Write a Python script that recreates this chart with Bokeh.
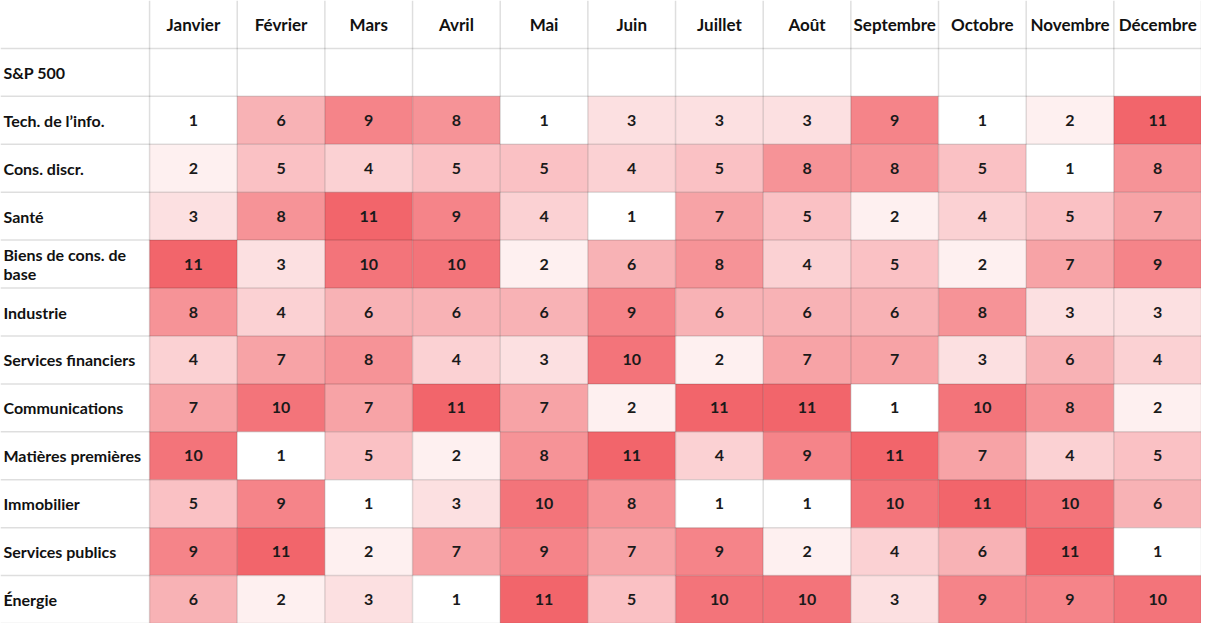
from bokeh.plotting import figure
from bokeh.models import ColumnDataSource, Range1d
from bokeh.core.properties import value
from bokeh.embed import file_html
from bokeh.resources import INLINE

months = ["Janvier", "Février", "Mars", "Avril", "Mai", "Juin", "Juillet",
          "Août", "Septembre", "Octobre", "Novembre", "Décembre"]
rows = ["S&P 500", "Tech. de l’info.", "Cons. discr.", "Santé",
        "Biens de cons. de\nbase", "Industrie", "Services financiers",
        "Communications", "Matières premières", "Immobilier",
        "Services publics", "Énergie"]

tech = [1, 6, 9, 8, 1, 3, 3, 3, 9, 1, 2, 11]
cons_discr = [2, 5, 4, 5, 5, 4, 5, 8, 8, 5, 1, 8]
sante = [3, 8, 11, 9, 4, 1, 7, 5, 2, 4, 5, 7]
biens_base = [11, 3, 10, 10, 2, 6, 8, 4, 5, 2, 7, 9]
industrie = [8, 4, 6, 6, 6, 9, 6, 6, 6, 8, 3, 3]
serv_fin = [4, 7, 8, 4, 3, 10, 2, 7, 7, 3, 6, 4]
communications = [7, 10, 7, 11, 7, 2, 11, 11, 1, 10, 8, 2]
matieres = [10, 1, 5, 2, 8, 11, 4, 9, 11, 7, 4, 5]
immobilier = [5, 9, 1, 3, 10, 8, 1, 1, 10, 11, 10, 6]
serv_publics = [9, 11, 2, 7, 9, 7, 9, 2, 4, 6, 11, 1]
energie = [6, 2, 3, 1, 11, 5, 10, 10, 3, 9, 9, 10]

sector_values = [tech, cons_discr, sante, biens_base, industrie, serv_fin,
                 communications, matieres, immobilier, serv_publics, energie]

LBL = 151 / 88.8           # label column width in month-column units
NROWS = len(rows) + 1      # header + rows
W, H = 1201, 623

lo = (255, 255, 255)
hi = (242, 101, 107)


def color_for(v):
    t = (v - 1) / 10.0
    c = [round(lo[k] + (hi[k] - lo[k]) * t) for k in range(3)]
    return "#%02x%02x%02x" % tuple(c)


p = figure(width=W, height=H, output_backend="svg", toolbar_location=None,
           x_range=Range1d(0, LBL + len(months)), y_range=Range1d(NROWS, 0),
           min_border=0, x_axis_location=None, y_axis_location=None)
p.grid.visible = False
p.outline_line_color = None
p.background_fill_color = "white"
p.border_fill_color = "white"

# cells
xs, ys, cols, txt = [], [], [], []
for i, vals in enumerate(sector_values):
    for j, v in enumerate(vals):
        xs.append(LBL + j + 0.5)
        ys.append(2 + i + 0.5)
        cols.append(color_for(v))
        txt.append(str(v))
src = ColumnDataSource(dict(x=xs, y=ys, c=cols, t=txt))
p.rect(x="x", y="y", width=1, height=1, fill_color="c", line_color=None, source=src)

# grid lines
hx0, hx1, hy = [], [], []
for r in range(1, NROWS + 1):
    hx0.append(0); hx1.append(LBL + len(months)); hy.append(r)
p.segment(x0=hx0, y0=hy, x1=hx1, y1=hy, line_color="black", line_alpha=0.13, line_width=1.5)
vx, vy0, vy1 = [], [], []
for j in range(len(months) + 1):
    vx.append(LBL + j); vy0.append(0); vy1.append(NROWS)
p.segment(x0=vx, y0=vy0, x1=vx, y1=vy1, line_color="black", line_alpha=0.13, line_width=1.5)

# numbers
p.text(x="x", y="y", text="t", source=src, text_align="center", text_baseline="middle",
       text_font=value("Lato"), text_font_size="16px", text_font_style="bold",
       text_color="#1a1a1a")

# header
p.text(x=[LBL + j + 0.5 for j in range(len(months))], y=[0.5] * len(months), text=months,
       text_align="center", text_baseline="middle", text_font=value("Lato"),
       text_font_size="17px", text_font_style="bold", text_color="#111111")

# row labels
p.text(x=[3 / 88.8] * len(rows), y=[1 + k + 0.5 for k in range(len(rows))], text=rows,
       text_align="left", text_baseline="middle", text_font=value("Lato"),
       text_font_size="16px", text_font_style="bold", text_color="#111111",
       text_line_height=1.0)

open("out.html", "w").write(file_html(p, INLINE))
